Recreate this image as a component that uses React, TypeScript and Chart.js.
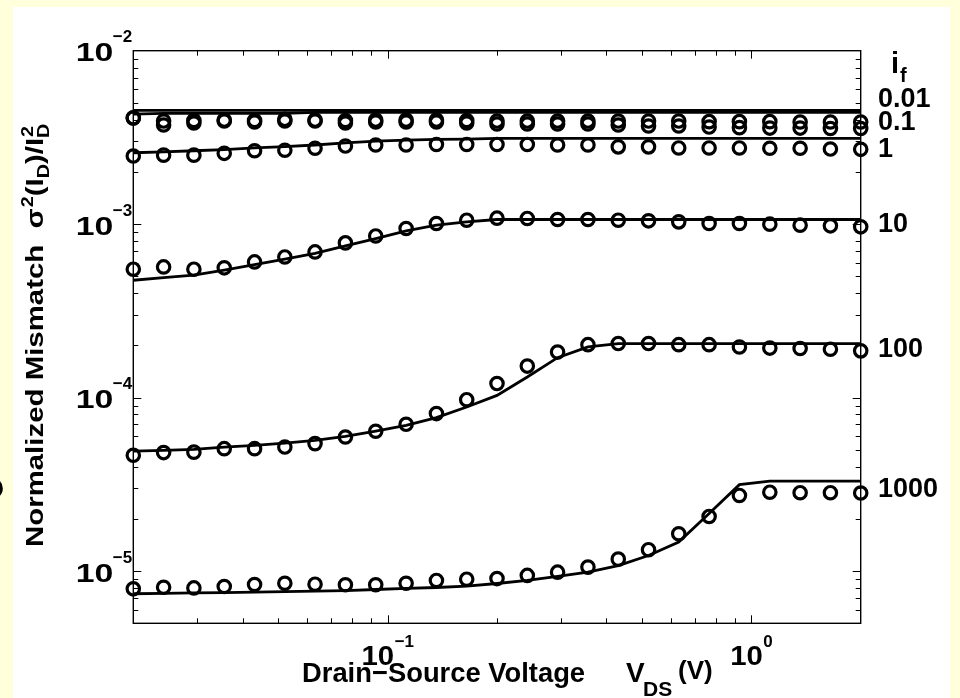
import React, { useEffect, useRef } from "react";
import { Chart, registerables } from "chart.js";

Chart.register(...registerables);

// ---- data ----
const vds = [0.02, 0.02423, 0.02935, 0.03557, 0.0431, 0.0522, 0.0632, 0.0766, 0.0928, 0.1125, 0.1363, 0.1651, 0.2, 0.2423, 0.2935, 0.3557, 0.431, 0.522, 0.632, 0.766, 0.928, 1.125, 1.363, 1.651, 2.0];

const meas001 = [4.10e-3, 3.93e-3, 3.96e-3, 3.98e-3, 3.96e-3, 4.02e-3, 3.98e-3, 3.96e-3, 3.98e-3, 3.98e-3, 3.98e-3, 3.96e-3, 3.93e-3, 3.93e-3, 3.93e-3, 3.93e-3, 3.93e-3, 3.93e-3, 3.93e-3, 3.90e-3, 3.90e-3, 3.90e-3, 3.88e-3, 3.88e-3, 3.88e-3];
const meas01 = [4.09e-3, 3.73e-3, 3.83e-3, 3.93e-3, 3.88e-3, 3.93e-3, 3.93e-3, 3.83e-3, 3.88e-3, 3.88e-3, 3.88e-3, 3.83e-3, 3.78e-3, 3.78e-3, 3.78e-3, 3.78e-3, 3.73e-3, 3.68e-3, 3.68e-3, 3.63e-3, 3.60e-3, 3.58e-3, 3.58e-3, 3.56e-3, 3.56e-3];
const meas1 = [2.47e-3, 2.50e-3, 2.50e-3, 2.56e-3, 2.65e-3, 2.67e-3, 2.74e-3, 2.82e-3, 2.86e-3, 2.86e-3, 2.88e-3, 2.88e-3, 2.88e-3, 2.88e-3, 2.86e-3, 2.86e-3, 2.79e-3, 2.79e-3, 2.75e-3, 2.75e-3, 2.75e-3, 2.74e-3, 2.74e-3, 2.71e-3, 2.70e-3];
const meas10 = [5.50e-4, 5.67e-4, 5.50e-4, 5.60e-4, 6.06e-4, 6.47e-4, 6.92e-4, 7.80e-4, 8.55e-4, 9.44e-4, 1.009e-3, 1.054e-3, 1.083e-3, 1.079e-3, 1.064e-3, 1.064e-3, 1.054e-3, 1.045e-3, 1.031e-3, 1.009e-3, 1.009e-3, 1.0e-3, 9.87e-4, 9.78e-4, 9.65e-4];
const meas100 = [4.65e-5, 4.82e-5, 4.85e-5, 5.08e-5, 5.08e-5, 5.19e-5, 5.43e-5, 5.93e-5, 6.40e-5, 7.02e-5, 8.09e-5, 9.73e-5, 1.205e-4, 1.52e-4, 1.83e-4, 2.02e-4, 2.05e-4, 2.05e-4, 2.02e-4, 2.02e-4, 1.96e-4, 1.93e-4, 1.92e-4, 1.90e-4, 1.86e-4];
const meas1000 = [7.9e-6, 8.07e-6, 8.0e-6, 8.15e-6, 8.37e-6, 8.51e-6, 8.4e-6, 8.34e-6, 8.34e-6, 8.51e-6, 8.83e-6, 8.98e-6, 9.05e-6, 9.44e-6, 9.86e-6, 1.054e-5, 1.172e-5, 1.328e-5, 1.641e-5, 2.065e-5, 2.73e-5, 2.85e-5, 2.83e-5, 2.83e-5, 2.82e-5];

const model001 = [4.53e-3, 4.53e-3, 4.53e-3, 4.53e-3, 4.53e-3, 4.53e-3, 4.53e-3, 4.53e-3, 4.53e-3, 4.53e-3, 4.53e-3, 4.53e-3, 4.53e-3, 4.53e-3, 4.53e-3, 4.53e-3, 4.53e-3, 4.53e-3, 4.53e-3, 4.53e-3, 4.53e-3, 4.53e-3, 4.53e-3, 4.53e-3, 4.53e-3];
const model01 = [4.31e-3, 4.35e-3, 4.35e-3, 4.35e-3, 4.35e-3, 4.35e-3, 4.41e-3, 4.41e-3, 4.41e-3, 4.41e-3, 4.41e-3, 4.41e-3, 4.41e-3, 4.41e-3, 4.41e-3, 4.41e-3, 4.41e-3, 4.41e-3, 4.41e-3, 4.41e-3, 4.41e-3, 4.41e-3, 4.41e-3, 4.41e-3, 4.41e-3];
const model1 = [2.58e-3, 2.61e-3, 2.65e-3, 2.69e-3, 2.75e-3, 2.80e-3, 2.86e-3, 2.94e-3, 3.01e-3, 3.05e-3, 3.08e-3, 3.09e-3, 3.12e-3, 3.12e-3, 3.12e-3, 3.12e-3, 3.12e-3, 3.12e-3, 3.12e-3, 3.12e-3, 3.12e-3, 3.12e-3, 3.12e-3, 3.12e-3, 3.12e-3];
const model10 = [4.75e-4, 4.92e-4, 5.08e-4, 5.43e-4, 5.85e-4, 6.28e-4, 6.78e-4, 7.50e-4, 8.26e-4, 9.14e-4, 9.87e-4, 1.031e-3, 1.064e-3, 1.064e-3, 1.064e-3, 1.064e-3, 1.064e-3, 1.064e-3, 1.064e-3, 1.064e-3, 1.064e-3, 1.064e-3, 1.064e-3, 1.064e-3, 1.064e-3];
const model100 = [4.92e-5, 4.96e-5, 5.03e-5, 5.19e-5, 5.31e-5, 5.47e-5, 5.67e-5, 5.98e-5, 6.42e-5, 6.92e-5, 7.67e-5, 8.83e-5, 1.03e-4, 1.315e-4, 1.70e-4, 1.96e-4, 2.05e-4, 2.05e-4, 2.05e-4, 2.05e-4, 2.05e-4, 2.05e-4, 2.05e-4, 2.05e-4, 2.05e-4];
const model1000 = [7.40e-6, 7.43e-6, 7.48e-6, 7.52e-6, 7.57e-6, 7.62e-6, 7.67e-6, 7.72e-6, 7.83e-6, 7.94e-6, 8.04e-6, 8.2e-6, 8.48e-6, 8.83e-6, 9.31e-6, 9.86e-6, 1.076e-5, 1.23e-5, 1.469e-5, 2.148e-5, 3.15e-5, 3.30e-5, 3.30e-5, 3.30e-5, 3.30e-5];

const ifLabels = ["0.01", "0.1", "1", "10", "100", "1000"];
const xMajor = [0.1, 1];
const xMajorExp = ["\u22121", "0"];
const yMajor = [1e-2, 1e-3, 1e-4, 1e-5];
const yMajorExp = ["\u22122", "\u22123", "\u22124", "\u22125"];

const X_MIN = 0.02, X_MAX = 2, Y_MIN = 5e-6, Y_MAX = 1e-2;

const YELLOW = "#FFFFDC";
const FONT = '"Liberation Sans", Arial, Helvetica, sans-serif';

function drawText(ctx: CanvasRenderingContext2D, s: string, x: number, y: number, size: number, sx = 1, align: "left" | "right" | "center" = "left") {
  ctx.save();
  ctx.font = `bold ${size}px ${FONT}`;
  const w = ctx.measureText(s).width * sx;
  const x0 = align === "left" ? x : align === "right" ? x - w : x - w / 2;
  ctx.translate(x0, y);
  ctx.scale(sx, 1);
  ctx.textAlign = "left";
  ctx.textBaseline = "alphabetic";
  ctx.fillStyle = "#000";
  ctx.fillText(s, 0, 0);
  ctx.restore();
  return w;
}
function textWidth(ctx: CanvasRenderingContext2D, s: string, size: number, sx = 1) {
  ctx.save();
  ctx.font = `bold ${size}px ${FONT}`;
  const w = ctx.measureText(s).width * sx;
  ctx.restore();
  return w;
}

const decor = {
  id: "decor",
  beforeDraw(chart: any) {
    const ctx = chart.ctx as CanvasRenderingContext2D;
    ctx.save();
    ctx.fillStyle = YELLOW;
    ctx.fillRect(0, 0, chart.width, chart.height);
    ctx.fillStyle = "#ffffff";
    ctx.fillRect(13, 7, 937, chart.height - 7);
    ctx.restore();
  },
  afterDraw(chart: any) {
    const ctx = chart.ctx as CanvasRenderingContext2D;
    const a = chart.chartArea;
    const xs = chart.scales.x;
    const ys = chart.scales.y;
    ctx.save();
    ctx.strokeStyle = "#000";
    ctx.lineWidth = 1;
    ctx.beginPath();
    for (let e = -6; e <= -2; e++) {
      for (let m = 1; m <= 9; m++) {
        const v = m * Math.pow(10, e);
        if (v <= Y_MIN * 1.001 || v >= Y_MAX * 0.999) continue;
        const py = Math.round(ys.getPixelForValue(v)) + 0.5;
        const len = m === 1 ? 8 : 5;
        ctx.moveTo(a.left, py); ctx.lineTo(a.left + len, py);
        ctx.moveTo(a.right, py); ctx.lineTo(a.right - len, py);
      }
    }
    for (let e = -2; e <= 0; e++) {
      for (let m = 1; m <= 9; m++) {
        const v = m * Math.pow(10, e);
        if (v <= X_MIN * 1.001 || v >= X_MAX * 0.999) continue;
        const px = Math.round(xs.getPixelForValue(v)) + 0.5;
        const len = m === 1 ? 8 : 5;
        ctx.moveTo(px, a.bottom); ctx.lineTo(px, a.bottom - len);
        ctx.moveTo(px, a.top); ctx.lineTo(px, a.top + len);
      }
    }
    ctx.stroke();
    ctx.lineWidth = 1.4;
    ctx.strokeRect(a.left, a.top, a.right - a.left, a.bottom - a.top);
    ctx.restore();

    // y tick labels
    yMajor.forEach((v, i) => {
      const py = ys.getPixelForValue(v);
      drawText(ctx, "10", a.left - 20, py + 10.5, 26, 1.3, "right");
      drawText(ctx, yMajorExp[i], a.left - 20.5, py - 8.5, 17, 1, "left");
    });
    // x tick labels
    xMajor.forEach((v, i) => {
      const px = xs.getPixelForValue(v);
      const w10 = textWidth(ctx, "10", 28, 1.05);
      const we = textWidth(ctx, xMajorExp[i], 17);
      const start = px - (w10 + we) / 2;
      drawText(ctx, "10", start, 665, 28, 1.05);
      drawText(ctx, xMajorExp[i], start + w10 + 0.5, 647, 17);
    });

    // x title
    drawText(ctx, "Drain\u2212Source Voltage", 302, 682, 28.5, 0.96);
    drawText(ctx, "V", 626, 682, 28);
    drawText(ctx, "DS", 643, 696, 21);
    drawText(ctx, "(V)", 678, 679, 26);

    // y title (rotated)
    ctx.save();
    ctx.translate(43, 547);
    ctx.rotate(-Math.PI / 2);
    let cx = 0;
    const S = 24.5, SX = 1.2, SS = 16.5;
    cx += drawText(ctx, "Normalized Mismatch  ", cx, 0, S, SX);
    cx += drawText(ctx, "\u03C3", cx, 0, S, SX);
    cx += drawText(ctx, "2", cx + 1, -10, SS, SX) + 1;
    cx += drawText(ctx, "(I", cx, 0, S, SX);
    cx += drawText(ctx, "D", cx, 6, SS, SX);
    cx += drawText(ctx, ")/I", cx, 0, S, SX);
    drawText(ctx, "2", cx + 1, -10, SS, SX);
    drawText(ctx, "D", cx, 6, SS, SX);
    ctx.restore();

    // series labels on the right
    drawText(ctx, "i", 891, 73, 29);
    drawText(ctx, "f", 900, 82, 20);
    const labelBase = [107, 130, 157, 232, 357, 497];
    ifLabels.forEach((s, i) => {
      drawText(ctx, s, 878, labelBase[i], 27);
    });

    // fragment at far left edge
    drawText(ctx, "O", 4, 498, 28, 1, "right");
  },
};

function pts(ys: number[]) {
  return vds.map((x, i) => ({ x, y: ys[i] }));
}

export default function App() {
  const ref = useRef<HTMLCanvasElement | null>(null);
  useEffect(() => {
    if (!ref.current) return;
    const lineDs = (ys: number[]) => ({
      data: pts(ys),
      showLine: true,
      borderColor: "#000",
      borderWidth: 2.8,
      pointRadius: 0,
      tension: 0,
      clip: false as any,
    });
    const markDs = (ys: number[]) => ({
      data: pts(ys),
      showLine: false,
      borderColor: "#000",
      backgroundColor: "rgba(0,0,0,0)",
      borderWidth: 3.2,
      pointRadius: 6.2,
      pointStyle: "circle",
      clip: false as any,
    });
    const chart = new Chart(ref.current, {
      type: "scatter",
      data: {
        datasets: [
          lineDs(model001), lineDs(model01), lineDs(model1), lineDs(model10), lineDs(model100), lineDs(model1000),
          markDs(meas001), markDs(meas01), markDs(meas1), markDs(meas10), markDs(meas100), markDs(meas1000),
        ] as any,
      },
      options: {
        animation: false,
        responsive: false,
        devicePixelRatio: 1,
        layout: { padding: { left: 133.3, top: 50.7, right: 99.3, bottom: 74.7 } },
        plugins: { legend: { display: false }, tooltip: { enabled: false } },
        scales: {
          x: { type: "logarithmic", min: X_MIN, max: X_MAX, display: false },
          y: { type: "logarithmic", min: Y_MIN, max: Y_MAX, display: false },
        },
      },
      plugins: [decor],
    });
    return () => chart.destroy();
  }, []);
  return (
    <div style={{ position: "fixed", left: 0, top: 0, width: 960, height: 698 }}>
      <canvas ref={ref} width={960} height={698} style={{ display: "block" }} />
    </div>
  );
}
